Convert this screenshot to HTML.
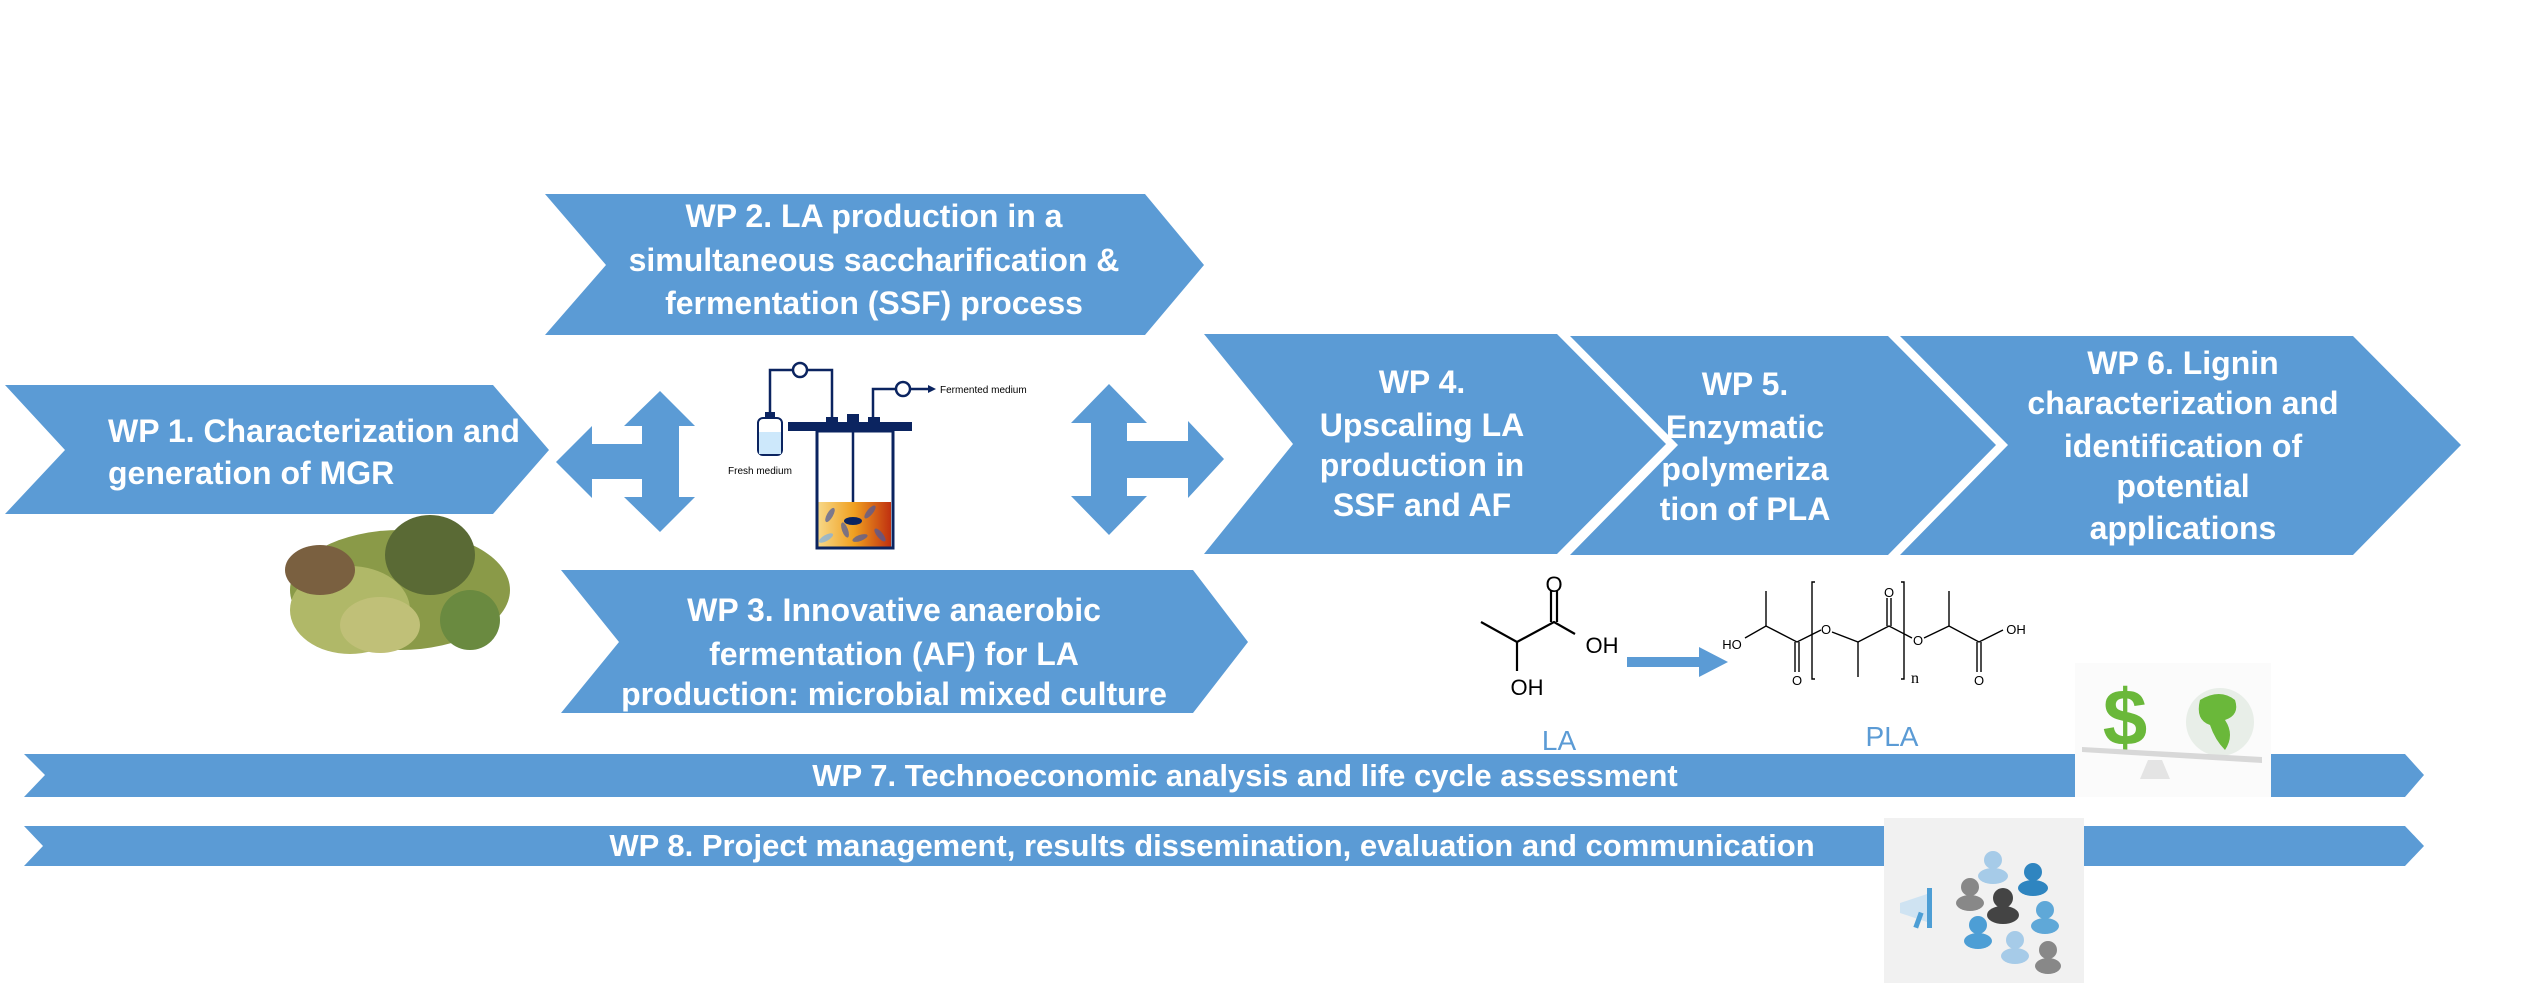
<!DOCTYPE html>
<html><head><meta charset="utf-8"><style>
html,body{margin:0;padding:0;background:#fff}
svg{display:block}
.t{font-family:"Liberation Sans",Arial,sans-serif;font-weight:bold;fill:#fff;font-size:32px;text-anchor:middle}
.b{font-size:31px}
.c{font-family:"Liberation Sans",Arial,sans-serif;fill:#000;text-anchor:middle}
</style></head><body>
<svg width="2534" height="983" viewBox="0 0 2534 983" xmlns="http://www.w3.org/2000/svg">
<g fill="#5b9bd5">
<polygon points="545,194 1145,194 1204,265 1145,335 545,335 606,265"/>
<polygon points="5,385 493,385 549,450 493,514 5,514 65,450"/>
<polygon points="561,570 1193,570 1248,642 1193,713 561,713 619,642"/>
<polygon points="1204,334 1557,334 1666,444 1557,554 1204,554 1293,444"/>
<polygon points="1570,336 1888,336 1996,445 1888,555 1570,555 1678,445"/>
<polygon points="1900,336 2353,336 2461,445 2353,555 1900,555 2008,445"/>
<polygon points="24,754 2405,754 2424,775 2405,797 24,797 45,775"/>
<polygon points="24,826 2405,826 2424,846 2405,866 24,866 43,846"/>
<polygon points="660,391 695,426 679,426 679,497 695,497 660,532 624,497 642,497 642,479 592,479 592,498 556,462 592,426 592,444 642,444 642,426 624,426"/>
<polygon points="1109,384 1147,423 1127,423 1127,441 1188,441 1188,421 1224,459 1188,498 1188,478 1127,478 1127,496 1147,496 1109,535 1071,496 1091,496 1091,423 1071,423"/>
<polygon points="1627,657 1699,657 1699,647 1728,662 1699,677 1699,667 1627,667"/>
</g>
<text class="t" x="874" y="227">WP 2. LA production in a</text>
<text class="t" x="874" y="271">simultaneous saccharification &amp;</text>
<text class="t" x="874" y="314">fermentation (SSF) process</text>
<text class="t" x="108" y="442" style="text-anchor:start">WP 1. Characterization and</text>
<text class="t" x="108" y="484" style="text-anchor:start">generation of MGR</text>
<text class="t" x="894" y="621">WP 3. Innovative anaerobic</text>
<text class="t" x="894" y="665">fermentation (AF) for LA</text>
<text class="t" x="894" y="705">production: microbial mixed culture</text>
<text class="t" x="1422" y="393">WP 4.</text>
<text class="t" x="1422" y="436">Upscaling LA</text>
<text class="t" x="1422" y="476">production in</text>
<text class="t" x="1422" y="516">SSF and AF</text>
<text class="t" x="1745" y="395">WP 5.</text>
<text class="t" x="1745" y="438">Enzymatic</text>
<text class="t" x="1745" y="480">polymeriza</text>
<text class="t" x="1745" y="520">tion of PLA</text>
<text class="t" x="2183" y="374">WP 6. Lignin</text>
<text class="t" x="2183" y="414">characterization and</text>
<text class="t" x="2183" y="457">identification of</text>
<text class="t" x="2183" y="497">potential</text>
<text class="t" x="2183" y="539">applications</text>
<text class="t b" x="1245" y="786">WP 7. Technoeconomic analysis and life cycle assessment</text>
<text class="t b" x="1212" y="856">WP 8. Project management, results dissemination, evaluation and communication</text>

<g fill="none" stroke="#0b2460" stroke-width="2.5">
<polyline points="770,414 770,370 793,370"/><polyline points="807,370 832,370 832,422"/>
<circle cx="800" cy="370" r="7" fill="#fff"/>
<polyline points="873,422 873,389 896,389"/><line x1="910" y1="389" x2="928" y2="389"/>
<circle cx="903" cy="389" r="7" fill="#fff"/>
<line x1="853" y1="431" x2="853" y2="520"/>
</g>
<polygon points="928,385 936,389 928,393" fill="#0b2460"/>
<rect x="788" y="422" width="124" height="9" fill="#0b2460"/>
<rect x="826" y="417" width="12" height="6" fill="#0b2460"/>
<rect x="847" y="414" width="12" height="9" fill="#0b2460"/>
<rect x="868" y="417" width="12" height="6" fill="#0b2460"/>
<defs><linearGradient id="lg" x1="0" x2="1"><stop offset="0" stop-color="#f7d98a"/><stop offset="0.5" stop-color="#f0a020"/><stop offset="1" stop-color="#c03010"/></linearGradient></defs>
<rect x="817" y="502" width="74" height="45" fill="url(#lg)"/>
<g fill="#4a5aa0" opacity="0.7"><ellipse cx="830" cy="515" rx="3" ry="8" transform="rotate(30 830 515)"/><ellipse cx="845" cy="530" rx="3" ry="8" transform="rotate(-20 845 530)"/><ellipse cx="870" cy="512" rx="3" ry="8" transform="rotate(40 870 512)"/><ellipse cx="880" cy="535" rx="3" ry="8" transform="rotate(-40 880 535)"/><ellipse cx="860" cy="538" rx="3" ry="8" transform="rotate(70 860 538)"/><ellipse cx="826" cy="538" rx="3" ry="8" transform="rotate(60 826 538)" fill="#7ab0e8"/></g>
<ellipse cx="853" cy="521" rx="9" ry="4" fill="#0b2460"/>
<rect x="817" y="431" width="76" height="117" fill="none" stroke="#0b2460" stroke-width="3"/>
<rect x="758" y="418" width="24" height="37" rx="5" fill="#fff" stroke="#0b2460" stroke-width="2"/>
<rect x="759" y="432" width="22" height="22" fill="#cde8fb"/>
<rect x="765" y="412" width="10" height="6" fill="#0b2460"/>
<text x="728" y="474" style="font-family:'Liberation Sans',sans-serif;font-size:10px">Fresh medium</text>
<text x="940" y="393" style="font-family:'Liberation Sans',sans-serif;font-size:10px">Fermented medium</text>

<g>
<ellipse cx="400" cy="590" rx="110" ry="60" fill="#8a9a48"/>
<ellipse cx="350" cy="610" rx="60" ry="44" fill="#b0b868"/>
<ellipse cx="430" cy="555" rx="45" ry="40" fill="#5a6a35"/>
<ellipse cx="470" cy="620" rx="30" ry="30" fill="#6a8a40"/>
<ellipse cx="320" cy="570" rx="35" ry="25" fill="#7a6040"/>
<ellipse cx="380" cy="625" rx="40" ry="28" fill="#c0c078"/>
</g>

<g stroke="#000" stroke-width="2.2" fill="none">
<polyline points="1481,622 1517,642 1554,622 1575,634"/>
<line x1="1517" y1="642" x2="1517" y2="671"/>
<line x1="1551" y1="622" x2="1551" y2="591"/><line x1="1557" y1="622" x2="1557" y2="591"/>
</g>
<text class="c" x="1554" y="592" style="font-size:22px">O</text>
<text class="c" x="1602" y="653" style="font-size:22px">OH</text>
<text class="c" x="1527" y="695" style="font-size:22px">OH</text>
<text x="1559" y="750" style="font-family:'Liberation Sans',sans-serif;font-size:28px;fill:#5b9bd5;text-anchor:middle">LA</text>

<g stroke="#000" stroke-width="1.4" fill="none">
<polyline points="1745,638 1766,626 1797,642 1821,630"/>
<line x1="1766" y1="626" x2="1766" y2="591"/>
<line x1="1795" y1="642" x2="1795" y2="672"/><line x1="1799" y1="642" x2="1799" y2="672"/>
<polyline points="1832,632 1858,642 1889,626 1912,638"/>
<line x1="1858" y1="642" x2="1858" y2="677"/>
<line x1="1887" y1="626" x2="1887" y2="598"/><line x1="1891" y1="626" x2="1891" y2="598"/>
<polyline points="1924,638 1949,626 1979,642 2003,630"/>
<line x1="1949" y1="626" x2="1949" y2="591"/>
<line x1="1977" y1="642" x2="1977" y2="672"/><line x1="1981" y1="642" x2="1981" y2="672"/>
<polyline points="1815,582 1812,582 1812,679 1815,679"/>
<polyline points="1901,582 1904,582 1904,679 1901,679"/>
</g>
<text class="c" x="1732" y="649" style="font-size:13px">HO</text>
<text class="c" x="1797" y="685" style="font-size:13px">O</text>
<text class="c" x="1826" y="634" style="font-size:13px">O</text>
<text class="c" x="1889" y="597" style="font-size:13px">O</text>
<text class="c" x="1918" y="645" style="font-size:13px">O</text>
<text class="c" x="1915" y="683" style="font-size:16px;font-family:'Liberation Serif',serif">n</text>
<text class="c" x="1979" y="685" style="font-size:13px">O</text>
<text class="c" x="2016" y="634" style="font-size:13px">OH</text>
<text x="1892" y="746" style="font-family:'Liberation Sans',sans-serif;font-size:28px;fill:#5b9bd5;text-anchor:middle">PLA</text>

<rect x="2075" y="663" width="196" height="134" fill="#fbfbfb"/>
<text x="2125" y="745" style="font-family:'Liberation Sans',sans-serif;font-weight:bold;font-size:80px;fill:#6ab83a;text-anchor:middle">$</text>
<circle cx="2220" cy="722" r="34" fill="#e8eee8"/>
<path d="M2200,700 q20,-12 35,0 q5,15 -10,20 q10,15 0,30 q-10,-10 -15,-25 q-15,-5 -10,-25z" fill="#6ab83a"/>
<polygon points="2082,747 2262,757 2262,763 2082,752" fill="#d8d8d8"/>
<polygon points="2148,760 2162,760 2170,779 2140,779" fill="#e4e4e4"/>

<rect x="1884" y="818" width="200" height="165" fill="#f1f1f1"/>
<g>
<circle cx="1993" cy="860" r="9" fill="#a6cbe8"/><ellipse cx="1993" cy="876" rx="15" ry="8" fill="#a6cbe8"/>
<circle cx="2033" cy="872" r="9" fill="#2f85c0"/><ellipse cx="2033" cy="888" rx="15" ry="8" fill="#2f85c0"/>
<circle cx="1970" cy="887" r="9" fill="#888"/><ellipse cx="1970" cy="903" rx="14" ry="8" fill="#888"/>
<circle cx="2003" cy="898" r="10" fill="#444"/><ellipse cx="2003" cy="915" rx="16" ry="9" fill="#444"/>
<circle cx="2045" cy="910" r="9" fill="#5fa8d8"/><ellipse cx="2045" cy="926" rx="14" ry="8" fill="#5fa8d8"/>
<circle cx="1978" cy="925" r="9" fill="#4d9ed5"/><ellipse cx="1978" cy="941" rx="14" ry="8" fill="#4d9ed5"/>
<circle cx="2015" cy="940" r="9" fill="#a6cbe8"/><ellipse cx="2015" cy="956" rx="14" ry="8" fill="#a6cbe8"/>
<circle cx="2048" cy="950" r="9" fill="#888"/><ellipse cx="2048" cy="966" rx="13" ry="8" fill="#888"/>
<polygon points="1900,903 1930,893 1930,923 1900,913" fill="#cfe3f2"/>
<rect x="1927" y="888" width="5" height="40" fill="#4d9ed5"/>
<rect x="1916" y="912" width="5" height="16" fill="#4d9ed5" transform="rotate(20 1918 920)"/>
</g>
</svg>
</body></html>
